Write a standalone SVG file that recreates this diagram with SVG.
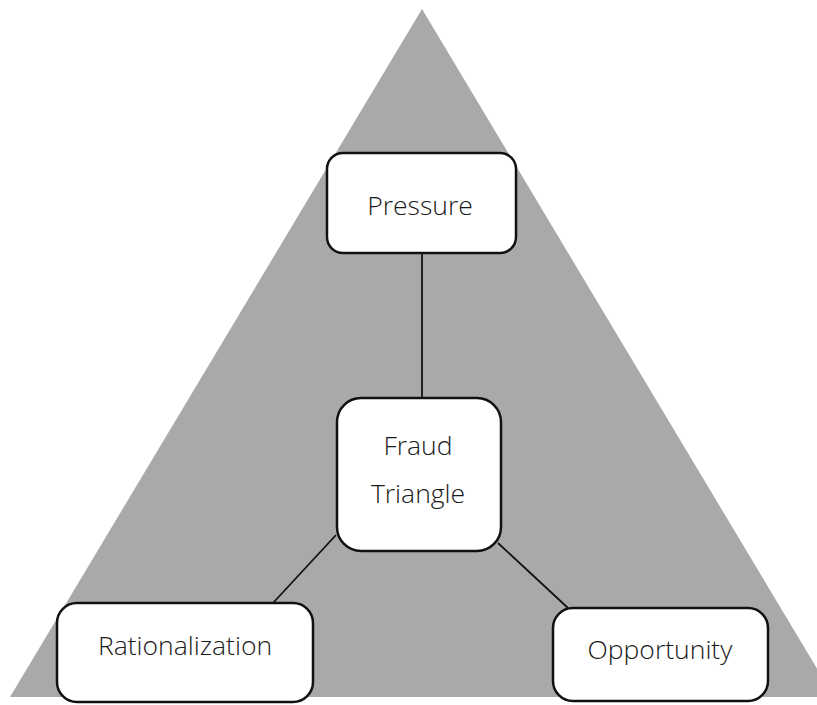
<svg xmlns="http://www.w3.org/2000/svg" width="817" height="705" viewBox="0 0 817 705">
<style>
.box{fill:#ffffff;stroke:#111111;stroke-width:2.5}
.lbl{font-family:"Open Sans","Noto Sans","Liberation Sans",sans-serif;font-weight:300;font-size:26.5px;fill:#1a1a1a;text-anchor:middle}
.conn{stroke:#111111;stroke-width:1.8;fill:none}
</style>
<rect x="0" y="0" width="817" height="705" fill="#ffffff"/>
<polygon id="triangle" points="422,9 10,697 834,697" fill="#a9a9a9"/>
<g id="connectors">
<line class="conn" x1="422" y1="253" x2="422" y2="398"/>
<line class="conn" x1="336" y1="535" x2="273" y2="603"/>
<line class="conn" x1="498" y1="543" x2="568" y2="608"/>
</g>
<g id="pressure">
<rect class="box" x="327" y="153" width="189" height="100" rx="16"/>
<text class="lbl" x="420" y="215">Pressure</text>
</g>
<g id="fraud-triangle">
<rect class="box" x="337" y="398" width="164" height="153" rx="24"/>
<text class="lbl" x="418" y="455">Fraud</text>
<text class="lbl" x="418" y="503">Triangle</text>
</g>
<g id="rationalization">
<rect class="box" x="57" y="603" width="256" height="99" rx="20"/>
<text class="lbl" x="185" y="655">Rationalization</text>
</g>
<g id="opportunity">
<rect class="box" x="553" y="608" width="215" height="93" rx="20"/>
<text class="lbl" x="660" y="659">Opportunity</text>
</g>
</svg>
